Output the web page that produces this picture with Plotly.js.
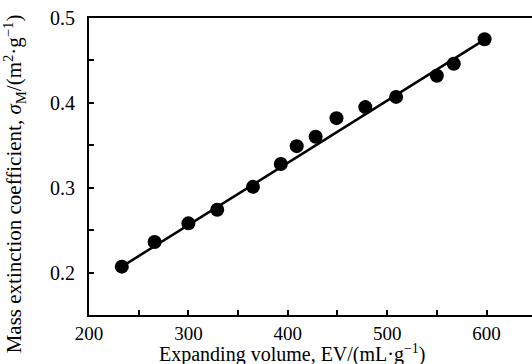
<!DOCTYPE html>
<html>
<head>
<meta charset="utf-8">
<script src="https://cdn.plot.ly/plotly-3.0.1.min.js"></script>
<style>html,body{margin:0;padding:0;background:#fff;}#chart{width:532px;height:364px;}</style>
</head>
<body>
<div id="chart"></div>
<script>
// Measured data points (expanding volume vs mass extinction coefficient)
var expandingVolume = [233, 266, 300, 329, 365, 393, 409, 428, 449, 478, 509, 550, 567, 598];
var extinctionCoef  = [0.207, 0.236, 0.258, 0.274, 0.301, 0.328, 0.349, 0.360, 0.382, 0.395, 0.407, 0.432, 0.446, 0.475];
// Linear fit line endpoints
var fitX = [233, 600];
var fitY = [0.207, 0.476];
var xTitle = 'Expanding volume, EV/(mL·g<sup>−1</sup>)';
var yTitle = 'Mass extinction coefficient, <i>σ</i><sub>M</sub>/(m<sup>2</sup>·g<sup>−1</sup>)';

var fam = '"Liberation Serif", "Times New Roman", serif';
var font = {family: fam, size: 20, color: '#000'};

var traces = [
  {x: fitX, y: fitY, mode: 'lines', type: 'scatter', line: {color: '#000', width: 2.5}, hoverinfo: 'skip'},
  {x: expandingVolume, y: extinctionCoef, mode: 'markers', type: 'scatter',
   marker: {color: '#000', size: 14, symbol: 'circle'}}
];

var layout = {
  width: 532, height: 364,
  margin: {l: 89, r: 0, t: 18, b: 49, pad: 0},
  paper_bgcolor: '#fff', plot_bgcolor: '#fff',
  showlegend: false,
  font: font,
  xaxis: {
    range: [200, 645.7], tick0: 200, dtick: 100,
    ticks: 'inside', ticklen: 5, tickwidth: 2, tickcolor: '#000',
    minor: {dtick: 50, ticks: 'inside', ticklen: 5, tickwidth: 2, tickcolor: '#000'},
    showline: true, linecolor: '#000', linewidth: 2, mirror: true,
    showgrid: false, zeroline: false,
    tickfont: {family: fam, size: 19, color: '#000'}, ticklabelstandoff: 0
  },
  yaxis: {
    range: [0.15, 0.5], tick0: 0.2, dtick: 0.1, tickformat: '.1f',
    ticks: 'inside', ticklen: 5, tickwidth: 2, tickcolor: '#000',
    minor: {dtick: 0.05, ticks: 'inside', ticklen: 5, tickwidth: 2, tickcolor: '#000'},
    showline: true, linecolor: '#000', linewidth: 2, mirror: false,
    showgrid: false, zeroline: false,
    tickfont: font, ticklabelstandoff: 8
  },
  annotations: [
    {text: xTitle, xref: 'paper', yref: 'paper', x: 0.46, y: 0, xanchor: 'center', yanchor: 'middle',
     yshift: -38, showarrow: false, font: {family: fam, size: 20, color: '#000'}},
    {text: yTitle, xref: 'paper', yref: 'paper', x: 0, y: 0.44, xanchor: 'center', yanchor: 'middle',
     xshift: -75, textangle: -90, showarrow: false, font: {family: fam, size: 21, color: '#000'}}
  ]
};

Plotly.newPlot('chart', traces, layout, {displayModeBar: false, staticPlot: true});
</script>
</body>
</html>
